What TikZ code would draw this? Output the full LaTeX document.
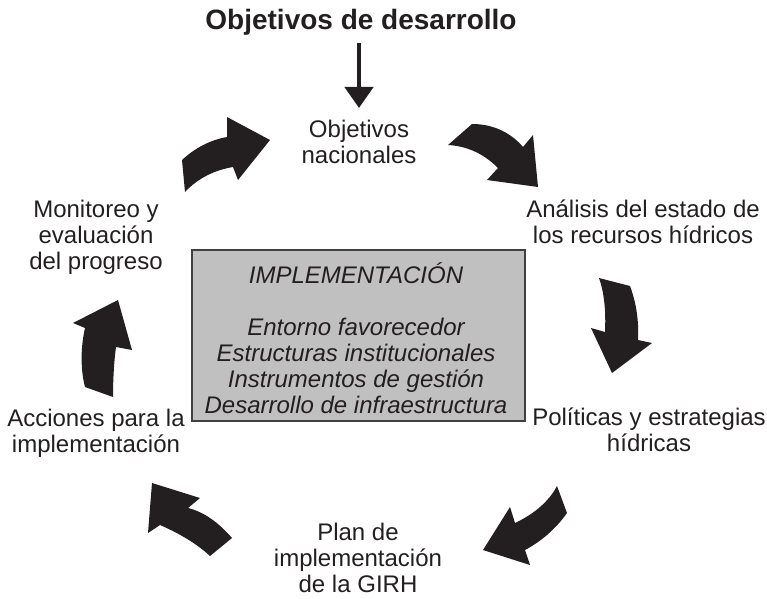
\documentclass[tikz,border=0pt]{standalone}
\usepackage{fontspec}
\setmainfont{Liberation Sans}
\usetikzlibrary{arrows.meta}
\definecolor{ink}{RGB}{35,31,32}
\definecolor{boxgray}{RGB}{192,192,192}
\definecolor{boxedge}{RGB}{64,64,64}
\begin{document}
\begin{tikzpicture}[x=1pt,y=-1pt,
  lbl/.style={align=center,inner sep=0pt,text=ink,font=\fontsize{24}{26}\selectfont},
  ttl/.style={inner sep=0pt,text=ink,font=\fontsize{28}{32}\selectfont\bfseries},
  cyc/.style={fill=ink,draw=none}]
\useasboundingbox (0,0) rectangle (767,598);
% title and down arrow
\node[ttl] (title) at (361,22) {Objetivos de desarrollo};
\node[lbl] (objnac) at (359,142) {Objetivos\\nacionales};
\draw[ink,line width=4.5pt,-{Triangle[length=21pt,width=28pt]},shorten <=8pt,shorten >=12pt] (title.south -| objnac.north) -- (objnac.north);
% stage labels
\node[lbl] (analisis) at (643,222) {Análisis del estado de\\los recursos hídricos};
\node[lbl] (politicas) at (649,430) {Políticas y estrategias\\hídricas};
\node[lbl] (plan) at (358,558) {Plan de\\implementación\\de la GIRH};
\node[lbl] (acciones) at (96,433) {Acciones para la\\implementación};
\node[lbl] (monitoreo) at (96,237) {Monitoreo y\\evaluación\\del progreso};
% central box
\node[draw=boxedge,line width=1.5pt,fill=boxgray,minimum width=333pt,minimum height=171pt,inner sep=0pt] (impl) at (358.5,335.5) {};
\node[lbl,font=\fontsize{24}{26}\selectfont\itshape] (impltext) at (356,338) {IMPLEMENTACIÓN\\ \\Entorno favorecedor\\Estructuras institucionales\\Instrumentos de gestión\\Desarrollo de infraestructura};
% curved cycle arrows
\fill[cyc] (472,124) .. controls (495,124) and (512,134) .. (523,147) -- (533,135) -- (538,187) -- (487,180) -- (498,168) .. controls (482,152) and (465,146) .. (448,145) -- cycle;
\fill[cyc] (599,278) -- (630,286) .. controls (636,302) and (639,320) .. (638,340) -- (652,343) -- (612,373) -- (591,328) -- (605,332) .. controls (606,310) and (604,292) .. (599,278) -- cycle;
\fill[cyc] (557,486) -- (567,513) .. controls (555,530) and (540,542) .. (525,550) -- (530,565) -- (483,550) -- (510,507) -- (515,523) .. controls (532,515) and (548,503) .. (557,486) -- cycle;
\fill[cyc] (210,556) -- (232,538) .. controls (218,522) and (204,512) .. (188,508) -- (200,498) -- (152,483) -- (148,533) -- (160,525) .. controls (176,532) and (195,542) .. (210,556) -- cycle;
\fill[cyc] (85,387) -- (113,397) .. controls (113,380) and (114,362) .. (116,347) -- (132,350) -- (118,300) -- (73,323) -- (85,328) .. controls (81,345) and (80,368) .. (85,387) -- cycle;
\fill[cyc] (185,192) -- (182,160) .. controls (195,148) and (210,140) .. (227,137) -- (227,117) -- (270,140) -- (238,180) -- (233,167) .. controls (215,170) and (198,178) .. (185,192) -- cycle;
\end{tikzpicture}
\end{document}
